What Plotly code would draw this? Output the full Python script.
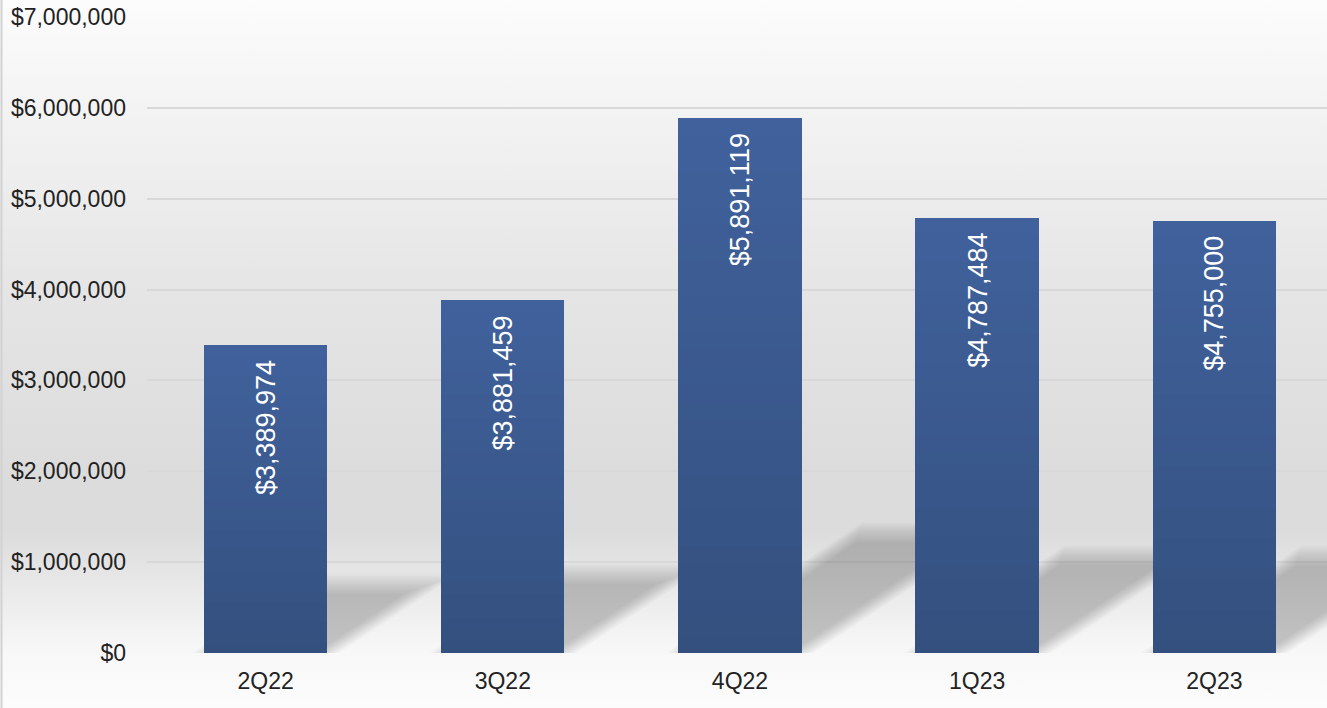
import base64
import plotly.graph_objects as go

# ---- data -------------------------------------------------------------
quarters = ["2Q22", "3Q22", "4Q22", "1Q23", "2Q23"]
revenue = [3389974, 3881459, 5891119, 4787484, 4755000]
y_ticks = [0, 1000000, 2000000, 3000000, 4000000, 5000000, 6000000, 7000000]

# ---- geometry / style -------------------------------------------------
W, H = 1327, 708
M_L, M_R, M_T, M_B = 147, 0, 17, 55
PLOT_W, PLOT_H = W - M_L - M_R, H - M_T - M_B
X_RANGE = [-0.5, 4.475]
Y_RANGE = [0, 7000000]
BAR_W = 0.52
FONT = "Liberation Sans, Arial, sans-serif"

px_per_x = PLOT_W / (X_RANGE[1] - X_RANGE[0])
px_per_y = PLOT_H / (Y_RANGE[1] - Y_RANGE[0])

x_pos = list(range(len(quarters)))

# background wash (figure pixel offset -> grey level)
bg_stops = [(0, 252), (110, 243), (290, 229), (470, 220), (530, 220),
            (562, 227), (600, 236), (653, 248), (708, 252)]
svg_stops = "".join(
    f'<stop offset="{p / H:.4f}" stop-color="rgb({g},{g},{g})"/>' for p, g in bg_stops
)
svg = (
    f'<svg xmlns="http://www.w3.org/2000/svg" width="{W}" height="{H}" '
    f'preserveAspectRatio="none" viewBox="0 0 {W} {H}">'
    f'<defs><linearGradient id="g" x1="0" y1="0" x2="0" y2="1">{svg_stops}'
    f'</linearGradient></defs><rect width="{W}" height="{H}" fill="url(#g)"/></svg>'
)
bg_uri = "data:image/svg+xml;base64," + base64.b64encode(svg.encode()).decode()


def px_to_paper_x(px):
    return (px - M_L) / PLOT_W


def px_to_paper_y(py):
    return (H - M_B - py) / PLOT_H


fig = go.Figure()

# ---- bars with a vertical gradient (dark at the base, lighter at the top)
bottom_rgb = (52, 80, 127)
top_rgb = (64, 97, 156)
n_steps = 30
for k in range(n_steps):
    t = k / (n_steps - 1)
    r, g, b = (round(bottom_rgb[i] + (top_rgb[i] - bottom_rgb[i]) * t) for i in range(3))
    frac = k / n_steps
    fig.add_trace(go.Bar(
        x=x_pos,
        base=[v * frac for v in revenue],
        y=[v * (1 - frac) for v in revenue],
        width=BAR_W,
        marker=dict(color=f"rgb({r},{g},{b})", line=dict(width=0)),
        hoverinfo="skip",
        showlegend=False,
    ))

# ---- soft cast shadows behind the bars (over the gridlines, under the bars)
RISE = 0.225         # shadow height as a share of bar height
SKEW = 1.5           # horizontal run per unit of rise, in pixels
shapes = []
blur_insets = list(range(-10, 11, 2))
for xc, v in zip(x_pos, revenue):
    h_px = RISE * v * px_per_y
    dx_px = SKEW * h_px
    xl = xc - BAR_W / 2
    xr = xc + BAR_W / 2
    for d in blur_insets:
        top_y = (h_px - d) / px_per_y
        side = d * 1.2 / px_per_x
        dx = dx_px / px_per_x * (h_px - d) / h_px
        pts = [
            (xl + side, 0),
            (xr - side, 0),
            (xr - side + dx, top_y),
            (xl + side + dx, top_y),
        ]
        path = "M " + " L ".join(f"{px},{py}" for px, py in pts) + " Z"
        shapes.append(dict(
            type="path", xref="x", yref="y", path=path,
            fillcolor="rgba(0,0,0,0.019)", line=dict(width=0), layer="between",
        ))

# thin frame line at the left edge of the chart
shapes.append(dict(
    type="line", xref="paper", yref="paper",
    x0=px_to_paper_x(1.5), x1=px_to_paper_x(1.5),
    y0=px_to_paper_y(0), y1=px_to_paper_y(H),
    line=dict(color="#d2d2d2", width=2), layer="above",
))

# ---- value labels, rotated, just inside the top of each bar
annotations = []
for xc, v in zip(x_pos, revenue):
    annotations.append(dict(
        x=xc, y=v, xref="x", yref="y",
        text=f"${v:,}", textangle=-90, showarrow=False,
        xanchor="center", yanchor="top", yshift=-13,
        font=dict(family=FONT, size=27, color="white"),
    ))

fig.update_layout(
    width=W, height=H,
    margin=dict(l=M_L, r=M_R, t=M_T, b=M_B, pad=0),
    paper_bgcolor="rgba(0,0,0,0)",
    plot_bgcolor="rgba(0,0,0,0)",
    barmode="overlay",
    bargap=0,
    showlegend=False,
    font=dict(family=FONT, size=23, color="#222222"),
    shapes=shapes,
    annotations=annotations,
    images=[dict(
        source=bg_uri, xref="paper", yref="paper",
        x=px_to_paper_x(0), y=px_to_paper_y(0),
        sizex=W / PLOT_W, sizey=H / PLOT_H,
        xanchor="left", yanchor="top", sizing="stretch", layer="below",
    )],
    xaxis=dict(
        range=X_RANGE, tickvals=x_pos, ticktext=quarters,
        showgrid=False, zeroline=False, showline=False, ticks="",
        ticklabelstandoff=12, fixedrange=True,
    ),
    yaxis=dict(
        range=Y_RANGE, tickvals=y_ticks,
        ticktext=[f"${v:,}" for v in y_ticks],
        showgrid=True, gridcolor="#d8d8d8", gridwidth=2,
        zeroline=False, showline=False, ticks="",
        ticklabelstandoff=20, fixedrange=True,
    ),
)

fig.write_html("out.html")
